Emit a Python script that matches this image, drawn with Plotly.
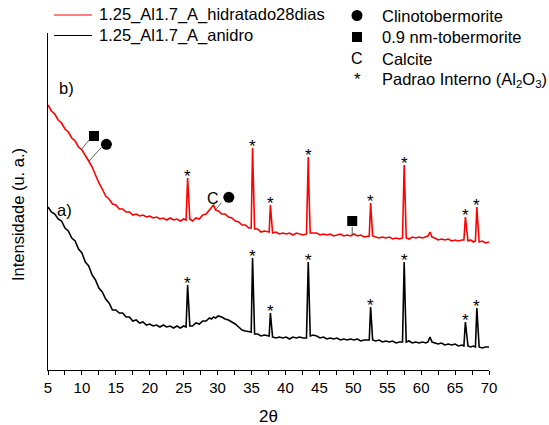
import plotly.graph_objects as go

# ---------------- data ----------------
two_theta = [
    5.0, 5.5, 6.0, 6.5, 7.0, 7.5, 8.0, 8.5, 9.0, 9.5,
    10.0, 10.5, 11.0, 11.5, 12.0, 12.5, 13.0, 13.5, 14.0, 14.5,
    15.0, 15.5, 16.0, 16.5, 17.0, 17.5, 18.0, 18.5, 19.0, 19.5,
    20.0, 20.5, 21.0, 21.5, 22.0, 22.5, 23.0, 23.5, 24.0, 24.5,
    25.0, 25.35, 25.58, 25.72, 25.9,
    26.3, 26.8, 27.3, 27.8, 28.3, 28.8,
    29.1, 29.4, 29.7, 30.1, 30.6, 31.1, 31.6, 32.1, 32.6, 33.1, 33.6, 34.1, 34.6, 34.95,
    35.15, 35.28, 35.45, 35.9, 36.4, 36.9, 37.3, 37.6,
    37.78, 37.9, 38.1, 38.6, 39.1, 39.6, 40.1, 40.6, 41.1, 41.6, 42.1, 42.6, 43.1,
    43.36, 43.48, 43.65, 44.1, 44.6, 45.1, 45.6, 46.1, 46.6, 47.1, 47.6, 48.1, 48.6, 49.1, 49.6,
    50.1, 50.6, 51.1, 51.6, 52.1, 52.35,
    52.55, 52.68, 52.85, 53.3, 53.8, 54.3, 54.8, 55.3, 55.8, 56.3, 56.8, 57.25,
    57.5, 57.65, 57.8, 58.2, 58.7, 59.2, 59.7, 60.2, 60.7, 61.0, 61.3, 61.6, 62.0, 62.5, 63.0,
    63.5, 64.0, 64.5, 65.0, 65.5, 66.0, 66.3,
    66.52, 66.7, 66.9, 67.3, 67.7, 68.0, 68.21, 68.38, 68.55, 69.0, 69.5, 70.0,
]

# b) 1.25_Al1.7_A_hidratado28dias (red)
intens_b = [
    265, 259, 256, 250, 247, 241, 238, 232, 229, 223,
    220, 215, 209, 203, 195, 187, 181, 174, 171, 166,
    165, 161, 161, 158, 158, 155, 156, 154, 155, 153,
    154, 152, 153, 151, 152, 150, 152, 150, 151, 149,
    151, 150, 192, 168, 151,
    149, 152, 151, 155, 156, 160,
    162, 165, 160, 159, 156, 156, 153, 152, 149, 148, 145, 145, 142, 142,
    222, 180, 141, 141, 138, 139, 138, 138,
    165, 150, 137, 138, 136, 137, 136, 137, 135, 137, 136, 135, 136,
    213, 175, 137, 137, 137, 135, 136, 135, 136, 134, 135, 136, 134, 135, 134,
    136, 134, 135, 133, 134, 134,
    167, 148, 134, 133, 132, 133, 132, 133, 131, 132, 131, 132,
    205, 170, 132, 131, 133, 132, 133, 132, 133, 134, 138, 133, 132, 130, 131,
    130, 131, 129, 130, 129, 130, 130,
    153, 140, 129, 130, 128, 129, 163, 145, 128, 129, 127, 128,
]

# a) 1.25_Al1.7_A_anidro (black)
intens_a = [
    163, 158, 156, 151, 149, 142, 139, 132, 129, 121,
    117, 108, 104, 95, 90, 82, 78, 71, 67, 60,
    60, 57, 57, 53, 53, 49, 50, 47, 48, 45,
    46, 44, 45, 43, 45, 43, 44, 42, 44, 42,
    44, 43, 85, 62, 44,
    44, 47, 46, 49, 49, 52,
    51, 53, 52, 54, 53, 51, 50, 48, 46, 43, 40, 39, 38, 38,
    112, 70, 36, 36, 34, 35, 34, 34,
    57, 44, 33, 32, 33, 32, 33, 31, 33, 32, 33, 32, 32,
    108, 70, 34, 35, 34, 32, 33, 31, 32, 31, 32, 30, 31, 30, 31,
    30, 31, 29, 30, 30, 30,
    63, 45, 30, 29, 30, 28, 29, 28, 29, 27, 28, 28,
    108, 65, 28, 29, 27, 28, 27, 28, 27, 28, 33, 28, 27, 26, 27,
    25, 26, 25, 26, 24, 25, 24,
    48, 35, 24, 23, 24, 23, 62, 42, 23, 22, 23, 23,
]

# Al2O3 internal-standard reflections marked with "*"
al2o3_peaks = [25.58, 35.15, 37.78, 43.36, 52.55, 57.5, 66.52, 68.21]

# phase markers placed on curve b)
clino_x = [13.61, 31.65]
clino_y = [225.7, 172.7]
tober_x = [11.78, 49.84]
tober_y = [234.0, 149.0]
calcite_x = [29.34]
calcite_y = [171.7]

series_names = ["1.25_Al1.7_A_hidratado28dias", "1.25_Al1.7_A_anidro"]
phase_names = ["Clinotobermorite", "0.9 nm-tobermorite", "Calcite",
               "Padrao Interno (Al<sub>2</sub>O<sub>3</sub>)"]
x_ticks = list(range(5, 71, 5))

# leader lines: (x0, y0, x1, y1) in data units
leaders = [
    (11.15, 230.7, 9.93, 220.7),
    (12.88, 222.7, 11.05, 209.0),
    (30.57, 167.3, 29.73, 160.7),
    (49.84, 143.3, 49.84, 135.0),
]

FONT = "Liberation Sans, Arial, sans-serif"
RED = "#ff0000"

fig = go.Figure()
fig.add_trace(go.Scatter(x=two_theta, y=intens_b, mode="lines",
                         line=dict(color=RED, width=1.6), name=series_names[0]))
fig.add_trace(go.Scatter(x=two_theta, y=intens_a, mode="lines",
                         line=dict(color="#000000", width=1.6), name=series_names[1]))

for (x0, y0, x1, y1) in leaders:
    fig.add_shape(type="line", xref="x", yref="y", x0=x0, y0=y0, x1=x1, y1=y1,
                  line=dict(color="#333333", width=0.8))

fig.add_trace(go.Scatter(x=clino_x, y=clino_y, mode="markers",
                         marker=dict(symbol="circle", size=11, color="black")))
fig.add_trace(go.Scatter(x=tober_x, y=tober_y, mode="markers",
                         marker=dict(symbol="square", size=10, color="black")))

annotations = []
# stars above the Al2O3 peaks of both patterns
for ys in (intens_b, intens_a):
    for p in al2o3_peaks:
        i = two_theta.index(p)
        annotations.append(dict(x=p, y=ys[i], xref="x", yref="y", text="*",
                                showarrow=False, yanchor="middle", yshift=2,
                                font=dict(size=17, family=FONT, color="black")))
for cx, cy in zip(calcite_x, calcite_y):
    annotations.append(dict(x=cx, y=cy, xref="x", yref="y", text="C", showarrow=False,
                            font=dict(size=16, family=FONT)))

annotations.append(dict(x=7.71, y=281.7, xref="x", yref="y", text="b)", showarrow=False,
                        font=dict(size=16.5, family=FONT)))
annotations.append(dict(x=7.46, y=160.0, xref="x", yref="y", text="a)", showarrow=False,
                        font=dict(size=16.5, family=FONT)))

# plot area geometry in pixels (for paper-coordinate legend placement)
L, R, T, B = 48, 60, 33, 55
W, H = 549, 425
PW, PH = W - L - R, H - T - B
px = lambda v: (v - L) / PW
py = lambda v: (H - B - v) / PH

# left legend
leg_rows = [15.0, 35.5]
for name, col, row in zip(series_names, [RED, "#000000"], leg_rows):
    fig.add_shape(type="line", xref="paper", yref="paper", x0=px(54), x1=px(92),
                  y0=py(row), y1=py(row), line=dict(color=col, width=1))
    annotations.append(dict(x=px(97), y=py(row), xref="paper", yref="paper", text=name,
                            showarrow=False, xanchor="left", yanchor="middle",
                            font=dict(size=16.5, family=FONT)))

# right legend
rrows = [15.5, 37.0, 58.5, 80.0]
sx = px(357)
fig.add_shape(type="circle", xref="paper", yref="paper", xsizemode="pixel", ysizemode="pixel",
              xanchor=sx, yanchor=py(rrows[0]), x0=-5.5, x1=5.5, y0=-5.5, y1=5.5,
              fillcolor="black", line=dict(width=0))
fig.add_shape(type="rect", xref="paper", yref="paper", xsizemode="pixel", ysizemode="pixel",
              xanchor=sx, yanchor=py(rrows[1]), x0=-5, x1=5, y0=-5, y1=5,
              fillcolor="black", line=dict(width=0))
annotations.append(dict(x=sx, y=py(rrows[2]), xref="paper", yref="paper", text="C",
                        showarrow=False, xanchor="center", yanchor="middle",
                        font=dict(size=16, family=FONT)))
annotations.append(dict(x=sx, y=py(rrows[3]), xref="paper", yref="paper", text="*",
                        showarrow=False, xanchor="center", yanchor="middle", yshift=1,
                        font=dict(size=17, family=FONT)))
for name, row in zip(phase_names, rrows):
    annotations.append(dict(x=px(380), y=py(row), xref="paper", yref="paper", text=name,
                            showarrow=False, xanchor="left", yanchor="middle",
                            font=dict(size=16.5, family=FONT)))

# axis titles
annotations.append(dict(x=px(18), y=py(215), xref="paper", yref="paper",
                        text="Intensidade (u. a.)", textangle=-90, showarrow=False,
                        xanchor="center", yanchor="middle", font=dict(size=16.5, family=FONT)))
annotations.append(dict(x=px(268), y=py(416), xref="paper", yref="paper",
                        text="2θ", showarrow=False, xanchor="center", yanchor="middle",
                        font=dict(size=17, family=FONT)))

fig.update_layout(
    width=W, height=H, margin=dict(l=L, r=R, t=T, b=B),
    paper_bgcolor="white", plot_bgcolor="white", showlegend=False,
    font=dict(family=FONT, size=16, color="black"),
    annotations=annotations,
)
fig.update_xaxes(range=[5, 70], tickvals=x_ticks, showline=True, linecolor="black",
                 linewidth=1, ticks="outside", ticklen=4, tickcolor="black",
                 tickfont=dict(size=15, family=FONT), showgrid=False, zeroline=False,
                 minor=dict(dtick=2.5, tick0=5, ticks="outside", ticklen=4, tickcolor="black"))
fig.update_yaxes(range=[0, 337], showline=True, linecolor="black", linewidth=1,
                 showticklabels=False, ticks="", showgrid=False, zeroline=False)

fig.write_html("out.html")
